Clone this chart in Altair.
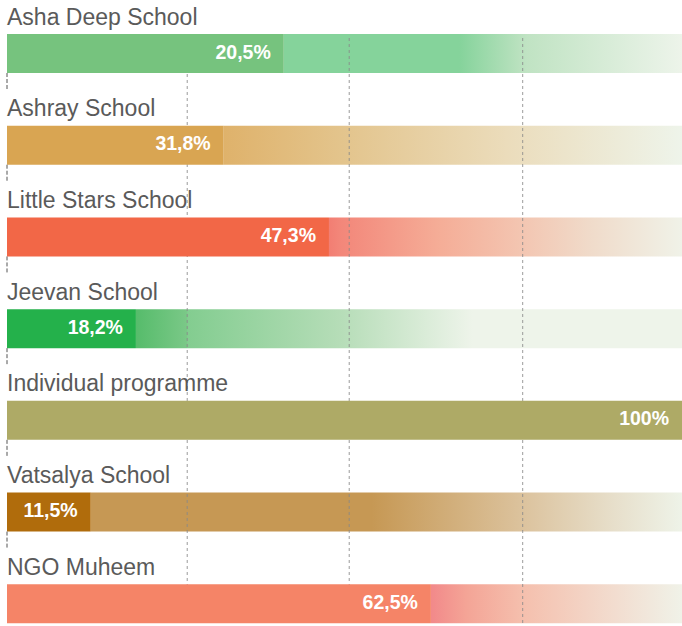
import altair as alt
import pandas as pd

# ---- data ----
names = ["Asha Deep School", "Ashray School", "Little Stars School", "Jeevan School",
         "Individual programme", "Vatsalya School", "NGO Muheem"]
bar_values = [41.0, 32.1, 47.7, 19.1, 100.0, 12.4, 62.8]      # drawn bar length (% of track)
label_values = [20.5, 31.8, 47.3, 18.2, 100.0, 11.5, 62.5]    # printed value
grid_positions = [26.7, 50.7, 76.4]

# ---- styles ----
bar_colors = ["#76c37e", "#d9a552", "#f26747", "#24b14b", "#aeaa66", "#b06c0c", "#f58467"]
# background fade: (position on 0-100 track, colour)
track_stops = [
    [(41.0, "#85d39b"), (67.0, "#85d39b"), (77.0, "#c0e3c3"), (100, "#edf4ea")],
    [(32.1, "#dfb26b"), (49.5, "#e3c48c"), (74.0, "#ebdcbb"), (100, "#eef4ea")],
    [(47.7, "#f27e73"), (49.5, "#f3877a"), (64.0, "#f5ad97"), (77.0, "#f3c7b3"),
     (86.5, "#f0dbca"), (100, "#f0f2e8")],
    [(19.1, "#56bc6b"), (26.6, "#7ac887"), (26.8, "#83cd90"), (49.5, "#b6ddb8"),
     (69.0, "#eef4ea"), (100, "#eef4ea")],
    None,
    [(12.4, "#c69854"), (54.0, "#c69854"), (76.6, "#dcc39e"), (90.0, "#e7dfcb"),
     (100, "#eef3e8")],
    [(62.8, "#f2898a"), (68.0, "#f4a496"), (76.6, "#f5c0ae"), (100, "#f0f2e8")],
]


def fmt(v):
    if float(v).is_integer():
        return f"{int(v)}%"
    return f"{v:.1f}".replace(".", ",") + "%"


df = pd.DataFrame({
    "name": names,
    "bar": bar_values,
    "end": [100.0] * len(names),
    "zero": [0.0] * len(names),
    "label": [fmt(v) for v in label_values],
})
grid_df = pd.DataFrame({
    "pos": grid_positions,
    "first": [names[0]] * len(grid_positions),
    "last": [names[-1]] * len(grid_positions),
})
edge_df = pd.DataFrame({"name": names[:-1], "zero": [0.0] * (len(names) - 1)})

xs = alt.Scale(domain=[0, 100], nice=False, zero=True)
ys = alt.Scale(domain=names, range=[-4, 638], paddingInner=0, paddingOuter=0)

BAR_H = 39
BAR_OFF = 11.65

layers = []
base = alt.Chart(df)

# background fading tracks
for n, v, stops in zip(names, bar_values, track_stops):
    if stops is None or v >= 100:
        continue
    gstops = []
    for p, c in stops:
        off = (p - v) / (100 - v)
        off = float(min(max(off, 0.0), 1.0))
        gstops.append({"color": c, "offset": off})
    grad = {"gradient": "linear", "stops": gstops, "x1": 0, "x2": 1, "y1": 0, "y2": 0}
    layers.append(
        base.transform_filter(alt.datum.name == n)
        .mark_bar(height=BAR_H, yOffset=BAR_OFF, color=grad)
        .encode(
            x=alt.X("bar:Q", scale=xs, axis=None),
            x2=alt.X2("end"),
            y=alt.Y("name:N", scale=ys, axis=None),
        )
    )

# dashed gridlines
layers.append(
    alt.Chart(grid_df)
    .mark_rule(strokeDash=[3, 3], color="#8a8a8a", strokeWidth=1, opacity=0.85,
               yOffset=-3.85, y2Offset=40)
    .encode(
        x=alt.X("pos:Q", scale=xs, axis=None),
        y=alt.Y("first:N", scale=ys, axis=None),
        y2=alt.Y2("last"),
    )
)

# value bars
layers.append(
    base.mark_bar(height=BAR_H, yOffset=BAR_OFF)
    .encode(
        x=alt.X("bar:Q", scale=xs, axis=None),
        y=alt.Y("name:N", scale=ys, axis=None),
        color=alt.Color("name:N", scale=alt.Scale(domain=names, range=bar_colors), legend=None),
    )
)

# short dark marks at the left edge below each bar
layers.append(
    alt.Chart(edge_df)
    .mark_rule(strokeDash=[4, 2], color="#555555", strokeWidth=1,
               yOffset=BAR_OFF + BAR_H / 2, y2Offset=BAR_OFF + BAR_H / 2 + 16)
    .encode(
        x=alt.X("zero:Q", scale=xs, axis=None),
        y=alt.Y("name:N", scale=ys, axis=None),
        y2=alt.Y2("name"),
    )
)

# category labels
layers.append(
    base.mark_text(align="left", baseline="alphabetic", yOffset=-17.35, fontSize=23,
                   font="Liberation Sans", color="#5a5a5a")
    .encode(
        x=alt.X("zero:Q", scale=xs, axis=None),
        y=alt.Y("name:N", scale=ys, axis=None),
        text="name:N",
    )
)

# value labels
layers.append(
    base.mark_text(align="right", baseline="middle", dx=-13, yOffset=BAR_OFF - 1,
                   fontSize=19.5, fontWeight="bold", font="Liberation Sans", color="white")
    .encode(
        x=alt.X("bar:Q", scale=xs, axis=None),
        y=alt.Y("name:N", scale=ys, axis=None),
        text="label:N",
    )
)

chart = (
    alt.layer(*layers)
    .properties(width=675, height=626,
                padding={"left": 7, "top": 0, "right": 0, "bottom": 0},
                autosize=alt.AutoSizeParams(type="none"))
    .configure_view(stroke=None)
)

chart.save("out.html", embed_options={"renderer": "svg", "actions": False})
